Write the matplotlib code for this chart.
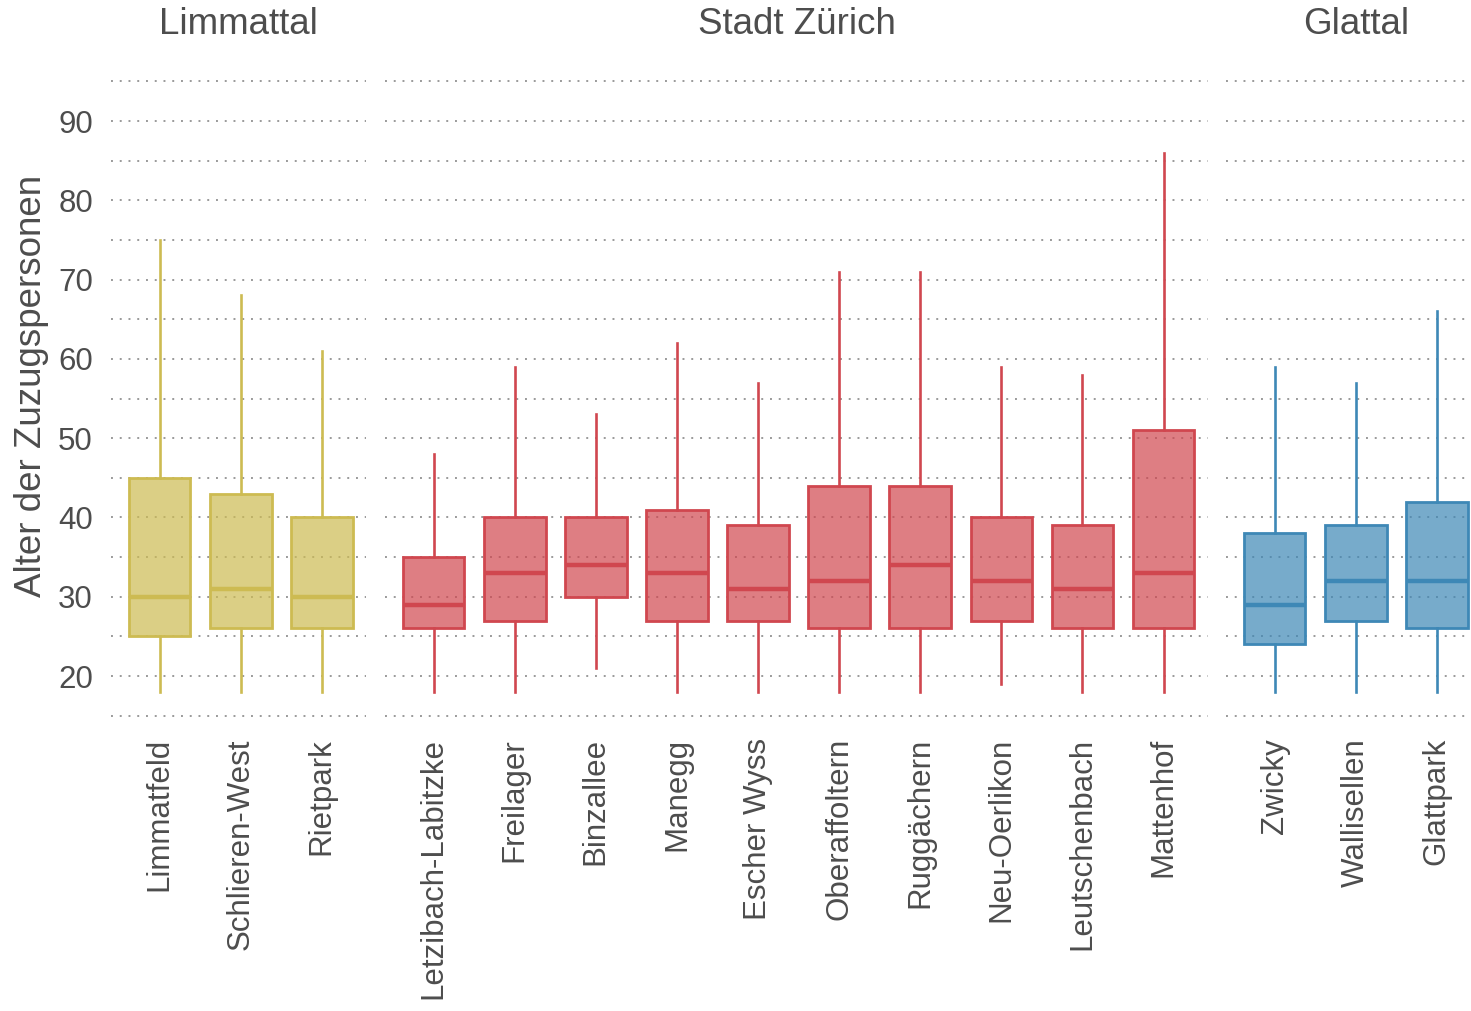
import matplotlib
matplotlib.use('Agg')
import matplotlib.pyplot as plt
import numpy as np

plt.rcParams['font.family'] = ['Liberation Sans', 'DejaVu Sans']

# data (ages of people moving in)
regions = ['Limmattal', 'Stadt Zürich', 'Glattal']
areas = [
    ['Limmatfeld', 'Schlieren-West', 'Rietpark'],
    ['Letzibach-Labitzke', 'Freilager', 'Binzallee', 'Manegg', 'Escher Wyss',
     'Oberaffoltern', 'Ruggächern', 'Neu-Oerlikon', 'Leutschenbach', 'Mattenhof'],
    ['Zwicky', 'Wallisellen', 'Glattpark'],
]
whis_lo = [[18, 18, 18], [18, 18, 21, 18, 18, 18, 18, 19, 18, 18], [18, 18, 18]]
q1 = [[25, 26, 26], [26, 27, 30, 27, 27, 26, 26, 27, 26, 26], [24, 27, 26]]
median = [[30, 31, 30], [29, 33, 34, 33, 31, 32, 34, 32, 31, 33], [29, 32, 32]]
q3 = [[45, 43, 40], [35, 40, 40, 41, 39, 44, 44, 40, 39, 51], [38, 39, 42]]
whis_hi = [[75, 68, 61], [48, 59, 53, 62, 57, 71, 71, 59, 58, 86], [59, 57, 66]]

colors = ['#CDBB52', '#D0474F', '#3E88B6']
text_col = '#4D4D4D'

W, H = 1471, 1011
fig = plt.figure(figsize=(W / 100, H / 100), dpi=100)

unit = 81.1  # px per category
lefts = [111, 385, 1226]
right_pad = [0.55, 0.55, 0.6]
y_top, y_bot = 79, 717.3

for i, reg in enumerate(regions):
    n = len(areas[i])
    xmin, xmax = -0.6, n - 1 + right_pad[i]
    width_px = (xmax - xmin) * unit
    ax = fig.add_axes([lefts[i] / W, 1 - y_bot / H, width_px / W, (y_bot - y_top) / H])

    stats = []
    for j in range(n):
        stats.append({'whislo': whis_lo[i][j], 'q1': q1[i][j], 'med': median[i][j],
                      'q3': q3[i][j], 'whishi': whis_hi[i][j], 'fliers': []})
    c = colors[i]
    ax.bxp(stats, positions=np.arange(n), widths=0.76, patch_artist=True,
           showfliers=False, showcaps=False,
           boxprops=dict(facecolor=matplotlib.colors.to_rgba(c, 0.7), edgecolor=c, linewidth=2.0),
           medianprops=dict(color=c, linewidth=3.2, solid_capstyle='butt'),
           whiskerprops=dict(color=c, linewidth=1.9))

    ax.set_xlim(xmin, xmax)
    ax.set_ylim(14.8, 95.3)
    ax.set_yticks(np.arange(15, 96, 5), minor=False)
    ax.grid(axis='y', linestyle=(0, (1, 3.5)), color='#9A9A9A', linewidth=1.4)
    ax.set_axisbelow(True)
    for s in ax.spines.values():
        s.set_visible(False)
    ax.tick_params(length=0)
    ax.set_xticks(np.arange(n))
    ax.set_xticklabels(areas[i], rotation=90, fontsize=22.5, color=text_col, va='top')
    ax.tick_params(axis='x', pad=15)
    if i == 0:
        ylabs = [str(v) if v % 10 == 0 and 20 <= v <= 90 else '' for v in range(15, 96, 5)]
        ax.set_yticklabels(ylabs, fontsize=22.5, color=text_col)
        ax.tick_params(axis='y', pad=13)
    else:
        ax.set_yticklabels([])

    cx = (lefts[i] + width_px / 2) / W
    fig.text(cx, 1 - 25 / H, reg, ha='center', va='center', fontsize=26.5, color=text_col)

fig.text(32 / W, 1 - 386 / H, 'Alter der Zuzugspersonen', rotation=90, ha='center',
         va='center', fontsize=26.5, color=text_col)

fig.savefig('out.png', dpi=100)
